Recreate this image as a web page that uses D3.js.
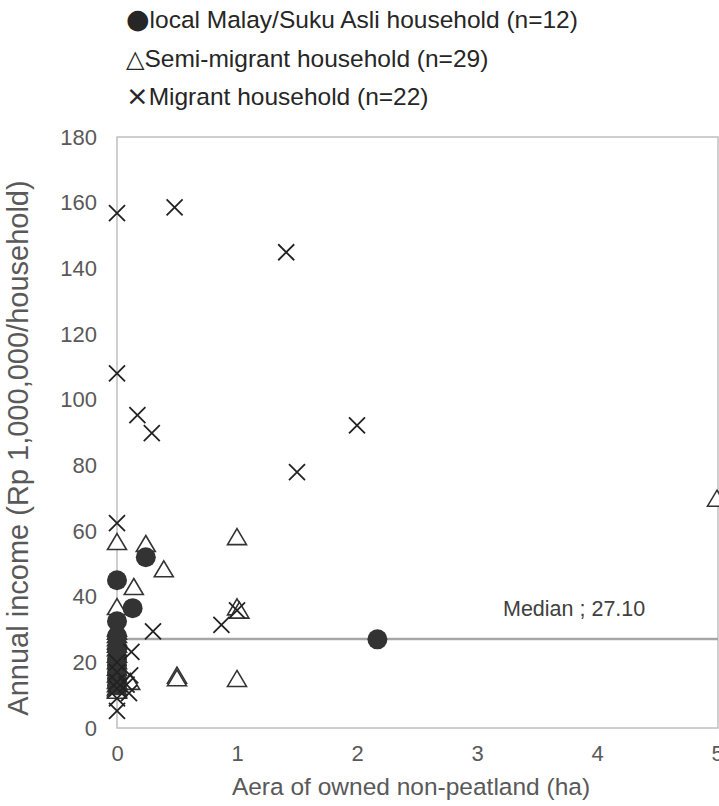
<!DOCTYPE html>
<html>
<head>
<meta charset="utf-8">
<script src="https://cdn.jsdelivr.net/npm/d3@7"></script>
<style>
  html, body { margin: 0; padding: 0; background: #fff; }
  svg { display: block; font-family: "Liberation Sans", Arial, sans-serif; }
</style>
</head>
<body>
<svg id="chart" width="719" height="806"></svg>
<script>
// Household income vs. area of owned non-peatland
// x: area (ha), y: annual income (Rp 1,000,000 / household)

const localMalay = [
  [0, 45], [0.24, 52], [0, 32.5], [0.13, 36.5], [2.17, 27],
  [0, 28], [0, 24], [0, 21], [0, 19], [0, 17], [0, 15], [0, 13]
];

const semiMigrant = [
  [0, 56.3], [0.24, 55.7], [0.39, 48], [0.14, 42.6], [0, 36.5],
  [1.0, 57.8], [1.0, 36.4], [1.02, 35.4], [0.5, 15.6], [0.5, 14.8],
  [1.0, 14.6], [5.0, 69.5], [0.11, 13.7],
  [0, 30], [0, 29], [0, 28], [0, 27], [0, 26], [0, 25], [0, 24], [0, 22],
  [0, 20], [0, 18], [0, 16], [0, 14], [0, 13], [0, 12], [0, 11.5], [0, 11]
];

const migrant = [
  [0, 156.8], [0.48, 158.6], [1.41, 144.9], [0, 108], [0.17, 95.3],
  [0.29, 89.8], [2.0, 92.2], [1.5, 77.9], [0, 62.4], [0.3, 29.4],
  [0.87, 31.4], [1.0, 35.8], [0.12, 23.2], [0.11, 16], [0.1, 10.6],
  [0, 5.2], [0.08, 13.2], [0, 20], [0, 17], [0, 14], [0, 12], [0, 9]
];

const xTicks = [0, 1, 2, 3, 4, 5];
const yTicks = [0, 20, 40, 60, 80, 100, 120, 140, 160, 180];
const medianIncome = 27.10;

const legendItems = [
  { symbol: "\u25CF", label: "local Malay/Suku Asli household (n=12)" },
  { symbol: "\u25B3", label: "Semi-migrant household (n=29)" },
  { symbol: "\u00D7", label: "Migrant household (n=22)" }
];

const svg = d3.select("#chart");
const plot = { left: 117, right: 717, top: 137, bottom: 728 };

const x = d3.scaleLinear().domain([0, 5]).range([plot.left, plot.right]);
const y = d3.scaleLinear().domain([0, 180]).range([plot.bottom, plot.top]);

const axisColor = "#595959";
const markColor = "#333333";

// Plot frame
svg.append("rect")
  .attr("x", plot.left).attr("y", plot.top)
  .attr("width", 718 - plot.left).attr("height", plot.bottom - plot.top)
  .attr("fill", "none").attr("stroke", "#bfbfbf").attr("stroke-width", 1.5);

// Axes (labels only; ticks hidden)
const xAxis = d3.axisBottom(x).tickValues(xTicks).tickSize(0).tickPadding(17).tickFormat(d3.format("d"));
const yAxis = d3.axisLeft(y).tickValues(yTicks).tickSize(0).tickPadding(20).tickFormat(d3.format("d"));

const gx = svg.append("g").attr("transform", `translate(0,${plot.bottom})`).call(xAxis);
const gy = svg.append("g").attr("transform", `translate(${plot.left},0)`).call(yAxis);
[gx, gy].forEach(g => {
  g.select(".domain").remove();
  g.selectAll("text").attr("fill", axisColor).style("font-size", "22px").style("font-family", "Liberation Sans, Arial, sans-serif");
});

// Median line
svg.append("line")
  .attr("x1", plot.left).attr("x2", 718)
  .attr("y1", y(medianIncome)).attr("y2", y(medianIncome))
  .attr("stroke", "#a6a6a6").attr("stroke-width", 2.5);

svg.append("text")
  .attr("x", 503).attr("y", y(medianIncome) - 23)
  .attr("fill", "#404040").style("font-size", "21.5px")
  .text(`Median ; ${medianIncome.toFixed(2)}`);

// Markers
const triPath = (w, h) => `M0,${-h * 0.6}L${w / 2},${h * 0.4}L${-w / 2},${h * 0.4}Z`;

svg.append("g").selectAll("path")
  .data(semiMigrant).join("path")
  .attr("transform", d => `translate(${x(d[0])},${y(d[1])})`)
  .attr("d", triPath(19, 16))
  .attr("fill", "#fff").attr("stroke", markColor).attr("stroke-width", 1.6)
  .attr("stroke-linejoin", "miter");

svg.append("g").selectAll("circle")
  .data(localMalay).join("circle")
  .attr("cx", d => x(d[0])).attr("cy", d => y(d[1]))
  .attr("r", 10).attr("fill", markColor);

const crossG = svg.append("g").attr("stroke", "#222").attr("stroke-width", 1.8);
crossG.selectAll("path")
  .data(migrant).join("path")
  .attr("transform", d => `translate(${x(d[0])},${y(d[1])})`)
  .attr("d", "M-8,-8L8,8M-8,8L8,-8")
  .attr("fill", "none");

// Legend
const legend = svg.append("g");
const symbolSizes = [27, 24, 27];
legendItems.forEach((item, i) => {
  const t = legend.append("text")
    .attr("x", 126).attr("y", 28 + i * 38.5)
    .attr("fill", "#262626").style("font-size", "24.5px");
  t.append("tspan").text(item.symbol)
    .style("font-family", "DejaVu Sans, sans-serif")
    .style("font-size", symbolSizes[i] + "px");
  t.append("tspan").text(item.label);
});

// Axis titles
svg.append("text")
  .attr("x", 411).attr("y", 795)
  .attr("text-anchor", "middle").attr("fill", axisColor).style("font-size", "24.5px")
  .text("Aera of owned non-peatland (ha)");

svg.append("text")
  .attr("transform", `translate(28,448) rotate(-90)`)
  .attr("text-anchor", "middle").attr("fill", axisColor).style("font-size", "29px")
  .text("Annual income (Rp 1,000,000/household)");
</script>
</body>
</html>
